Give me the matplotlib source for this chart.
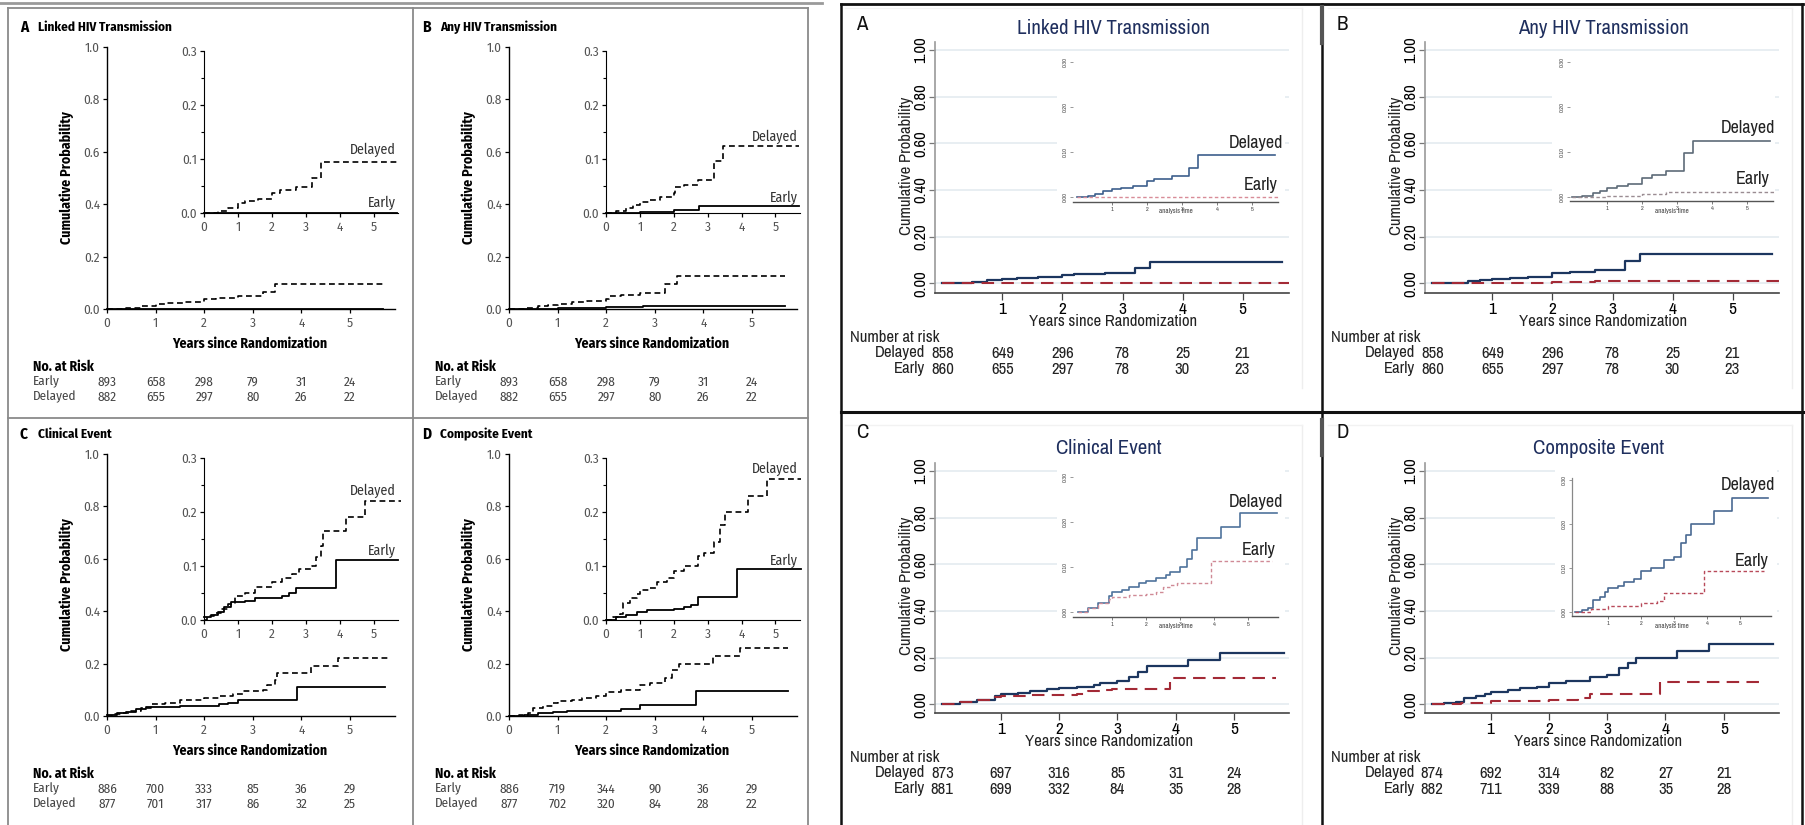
import matplotlib
matplotlib.use("Agg")
import matplotlib.pyplot as plt
from matplotlib.lines import Line2D
from matplotlib.patches import Rectangle

W, H = 1806, 825

# ---------------- data ----------------
years = [0, 1, 2, 3, 4, 5]
letters = ["A", "B", "C", "D"]
titles = ["Linked HIV Transmission", "Any HIV Transmission", "Clinical Event", "Composite Event"]

# left figure (journal version): cumulative probability, step curves
nejm_delayed_t = [
    [0, 0.4, 0.7, 1.0, 1.2, 1.6, 2.0, 2.25, 2.7, 3.2, 3.45, 5.68],
    [0, 0.3, 0.6, 0.8, 1.0, 1.3, 1.6, 2.0, 2.05, 2.3, 2.7, 3.2, 3.45, 5.68],
    [0, 0.1, 0.3, 0.5, 0.7, 0.9, 1.2, 1.5, 2.0, 2.3, 2.6, 2.8, 3.2, 3.3, 3.45, 3.5, 4.2, 4.75, 5.8],
    [0, 0.2, 0.4, 0.5, 0.7, 0.9, 1.0, 1.3, 1.5, 1.8, 2.0, 2.3, 2.7, 2.9, 3.2, 3.35, 3.5, 4.2, 4.75, 5.75],
]
nejm_delayed_p = [
    [0, 0.003, 0.01, 0.018, 0.023, 0.026, 0.037, 0.042, 0.048, 0.065, 0.094, 0.094],
    [0, 0.003, 0.01, 0.015, 0.02, 0.025, 0.03, 0.037, 0.048, 0.052, 0.062, 0.097, 0.125, 0.125],
    [0, 0.007, 0.013, 0.02, 0.03, 0.045, 0.05, 0.062, 0.07, 0.077, 0.085, 0.095, 0.1, 0.117, 0.137, 0.164, 0.19, 0.221, 0.221],
    [0, 0.005, 0.012, 0.031, 0.04, 0.048, 0.056, 0.06, 0.07, 0.078, 0.091, 0.1, 0.119, 0.125, 0.145, 0.176, 0.2, 0.229, 0.261, 0.261],
]
nejm_early_t = [
    [0, 5.68],
    [0, 1.0, 2.0, 2.75, 5.68],
    [0, 0.2, 0.4, 0.6, 0.8, 1.2, 1.5, 2.3, 2.5, 2.7, 3.9, 5.72],
    [0, 0.3, 0.6, 0.9, 1.2, 2.0, 2.3, 2.5, 2.7, 3.85, 5.75],
]
nejm_early_p = [
    [0, 0],
    [0, 0.002, 0.006, 0.013, 0.013],
    [0.005, 0.01, 0.015, 0.025, 0.033, 0.036, 0.04, 0.045, 0.05, 0.06, 0.111, 0.111],
    [0, 0.005, 0.01, 0.015, 0.018, 0.02, 0.025, 0.028, 0.043, 0.094, 0.094],
]
nejm_risk_early = [
    [893, 658, 298, 79, 31, 24],
    [893, 658, 298, 79, 31, 24],
    [886, 700, 333, 85, 36, 29],
    [886, 719, 344, 90, 36, 29],
]
nejm_risk_delayed = [
    [882, 655, 297, 80, 26, 22],
    [882, 655, 297, 80, 26, 22],
    [877, 701, 317, 86, 32, 25],
    [877, 702, 320, 84, 28, 22],
]

# right figure (Stata version)
stata_delayed_t = [
    [0, 0.3, 0.5, 0.75, 1.0, 1.25, 1.6, 2.0, 2.2, 2.7, 3.2, 3.45, 5.66],
    [0, 0.3, 0.6, 0.8, 1.0, 1.3, 1.6, 2.0, 2.3, 2.7, 3.2, 3.45, 5.66],
    [0, 0.3, 0.6, 0.9, 1.0, 1.3, 1.5, 1.8, 2.0, 2.3, 2.6, 2.7, 3.0, 3.2, 3.35, 3.5, 4.2, 4.75, 5.85],
    [0, 0.2, 0.4, 0.55, 0.75, 0.9, 1.0, 1.3, 1.5, 1.8, 2.0, 2.3, 2.7, 3.0, 3.2, 3.35, 3.5, 4.2, 4.75, 5.85],
]
stata_delayed_p = [
    [0, 0.002, 0.006, 0.013, 0.018, 0.021, 0.025, 0.035, 0.04, 0.046, 0.064, 0.093, 0.093],
    [0, 0.003, 0.008, 0.013, 0.019, 0.024, 0.028, 0.043, 0.05, 0.058, 0.097, 0.124, 0.124],
    [0, 0.01, 0.02, 0.035, 0.045, 0.05, 0.055, 0.065, 0.07, 0.075, 0.083, 0.09, 0.1, 0.118, 0.137, 0.164, 0.19, 0.219, 0.219],
    [0, 0.005, 0.01, 0.028, 0.035, 0.045, 0.054, 0.06, 0.068, 0.075, 0.093, 0.1, 0.119, 0.125, 0.157, 0.175, 0.2, 0.23, 0.26, 0.26],
]
stata_early_t = [
    [0, 5.78],
    [0, 1.0, 2.0, 2.7, 5.78],
    [0, 0.3, 0.6, 0.9, 1.0, 1.5, 2.0, 2.3, 2.5, 2.7, 2.9, 3.9, 5.72],
    [0, 0.5, 1.0, 2.0, 2.5, 2.7, 3.9, 5.72],
]
stata_early_p = [
    [0, 0],
    [0, 0.003, 0.006, 0.012, 0.012],
    [0, 0.01, 0.02, 0.03, 0.034, 0.038, 0.04, 0.045, 0.055, 0.06, 0.064, 0.113, 0.113],
    [0, 0.006, 0.014, 0.02, 0.025, 0.043, 0.094, 0.094],
]
stata_risk_delayed = [
    [858, 649, 296, 78, 25, 21],
    [858, 649, 296, 78, 25, 21],
    [873, 697, 316, 85, 31, 24],
    [874, 692, 314, 82, 27, 21],
]
stata_risk_early = [
    [860, 655, 297, 78, 30, 23],
    [860, 655, 297, 78, 30, 23],
    [881, 699, 332, 84, 35, 28],
    [882, 711, 339, 88, 35, 28],
]

NEJM_FONT = ["Fira Sans Condensed", "DejaVu Sans"]
STATA_FONT = ["Archivo Narrow", "DejaVu Sans"]

fig = plt.figure(figsize=(W / 100, H / 100), dpi=100)


def box(x0, y0, x1, y1):
    # pixel box (y measured from the top) -> figure fraction rect
    return [x0 / W, 1 - y1 / H, (x1 - x0) / W, (y1 - y0) / H]


def ftext(x, y, s, **kw):
    fig.text(x / W, 1 - y / H, s, **kw)


def fline(xs, ys, **kw):
    fig.add_artist(Line2D([x / W for x in xs], [1 - y / H for y in ys], **kw))


def mapped_axes(left, right, top, bottom, x0, sx, y0, sy, zorder=0):
    ax = fig.add_axes(box(left, top, right, bottom), zorder=zorder)
    ax.set_xlim((left - x0) / sx, (right - x0) / sx)
    ax.set_ylim((y0 - bottom) / sy, (y0 - top) / sy)
    return ax


# ---------------- left: journal figure ----------------
grey = "#8a8a8a"
fline([0, 822], [3, 3], color="#9a9a9a", lw=2)
for xx in (8, 413, 808):
    fline([xx, xx], [8, 825], color=grey, lw=1.3)
for yy in (8, 418):
    fline([8, 808], [yy, yy], color=grey, lw=1.3)

for i in range(4):
    dx = 402 * (i % 2)
    dy = 407 * (i // 2)
    # main plot
    sx = 48.6
    ax = fig.add_axes(box(107 + dx, 47 + dy, 107 + dx + 5.93 * sx, 309 + dy))
    ax.set_ylim(0, 1)
    ax.set_xlim(0, 5.93)
    ax.step(nejm_delayed_t[i], nejm_delayed_p[i], where="post", color="black",
            lw=1.2, dashes=(3.5, 2.2), clip_on=False)
    ax.step(nejm_early_t[i], nejm_early_p[i], where="post", color="black",
            lw=1.3, clip_on=False)
    ax.set_yticks([0, 0.2, 0.4, 0.6, 0.8, 1.0])
    ax.set_yticklabels(["0.0", "0.2", "0.4", "0.6", "0.8", "1.0"])
    ax.set_xticks(years)
    for s in ("top", "right"):
        ax.spines[s].set_visible(False)
    for s in ("left", "bottom"):
        ax.spines[s].set_linewidth(1.0)
    ax.tick_params(length=3, width=0.9, pad=2, labelsize=9.5, labelcolor="#555555")
    ax.tick_params(axis="x", pad=3)
    for lab in ax.get_xticklabels() + ax.get_yticklabels():
        lab.set_family(NEJM_FONT)
    ax.patch.set_alpha(0)

    # inset
    sxi = 33.9
    axi = fig.add_axes(box(204 + dx, 51 + dy, 204 + dx + 5.72 * sxi, 213 + dy), zorder=2)
    axi.set_xlim(0, 5.72)
    axi.set_ylim(0, 0.3)
    axi.step(nejm_delayed_t[i], nejm_delayed_p[i], where="post", color="black",
             lw=1.2, dashes=(3.5, 2.2), clip_on=False)
    axi.step(nejm_early_t[i], nejm_early_p[i], where="post", color="black",
             lw=1.3, clip_on=False)
    axi.set_yticks([0, 0.1, 0.2, 0.3])
    axi.set_yticklabels(["0.0", "0.1", "0.2", "0.3"])
    axi.set_yticks([0.05, 0.15, 0.25], minor=True)
    axi.set_xticks(years)
    for s in ("top", "right"):
        axi.spines[s].set_visible(False)
    axi.tick_params(length=3, width=0.9, pad=2, labelsize=9.5, labelcolor="#555555")
    axi.tick_params(axis="y", which="minor", length=2, width=0.8)
    axi.tick_params(axis="x", pad=3)
    for lab in axi.get_xticklabels() + axi.get_yticklabels():
        lab.set_family(NEJM_FONT)
    axi.patch.set_alpha(0)
    d_lab = [0.117, 0.142, 0.239, 0.28][i]
    e_lab = [0.018, 0.028, 0.128, 0.109][i]
    axi.text(5.65, d_lab, "Delayed", ha="right", va="center", fontsize=10,
             color="#333333", family=NEJM_FONT)
    axi.text(5.65, e_lab, "Early", ha="right", va="center", fontsize=10,
             color="#333333", family=NEJM_FONT)

    # texts
    ftext(20 + dx, 27 + dy, letters[i], fontsize=11, fontweight="bold", va="center",
          family=NEJM_FONT)
    ftext(38 + dx, 27 + dy, titles[i], fontsize=9.5, fontweight="bold", va="center",
          family=NEJM_FONT)
    ftext(67 + dx, 178 + dy, "Cumulative Probability", rotation=90, fontsize=10,
          fontweight="bold", ha="center", va="center", family=NEJM_FONT)
    ftext(250 + dx, 344 + dy, "Years since Randomization", fontsize=10,
          fontweight="bold", ha="center", va="center", family=NEJM_FONT)
    ftext(33 + dx, 367 + dy, "No. at Risk", fontsize=10, fontweight="bold",
          va="center", family=NEJM_FONT)
    ftext(33 + dx, 382 + dy, "Early", fontsize=9.5, va="center", color="#444444",
          family=NEJM_FONT)
    ftext(33 + dx, 397 + dy, "Delayed", fontsize=9.5, va="center", color="#444444",
          family=NEJM_FONT)
    for k, yr in enumerate(years):
        xp = 107 + dx + yr * sx
        ftext(xp, 382 + dy, str(nejm_risk_early[i][k]), fontsize=9.5, ha="center",
              va="center", color="#444444", family=NEJM_FONT)
        ftext(xp, 397 + dy, str(nejm_risk_delayed[i][k]), fontsize=9.5, ha="center",
              va="center", color="#444444", family=NEJM_FONT)

# ---------------- right: Stata figure ----------------
navy = "#1c365f"
darkred = "#a32a36"
title_col = "#1f2f5e"
grid_col = "#e4ebf0"

# faint graph-region borders
for (xa, xb, ya, yb) in [(845, 1302, 8, 388), (1328, 1792, 8, 388),
                         (845, 1302, 425, 825), (1328, 1792, 425, 825)]:
    fline([xb, xb], [ya, yb], color="#eeeeee", lw=1)
    fline([xa, xb], [ya, ya], color="#f2f2f2", lw=1)

fline([841, 1803], [4, 4], color="#111111", lw=2)
fline([841, 1803], [412, 412], color="#111111", lw=2.2)
for xx in (841, 1322, 1802):
    fline([xx, xx], [4, 825], color="#111111", lw=1.8)
fline([1322, 1322], [7, 43], color="#555555", lw=3)
fline([1322, 1322], [420, 455], color="#555555", lw=3)

stata_main = [
    # spine x, data-zero x, px/yr, right end, y zero, px/unit, spine bottom, spine top
    (935, 942.5, 60.0, 1289, 283.3, 233.3, 293, 42),
    (1425, 1432.5, 60.0, 1779, 283.3, 233.3, 293, 42),
    (935, 942.25, 58.4, 1289, 704.3, 233.3, 713, 463),
    (1425, 1432.3, 58.3, 1779, 704.3, 233.3, 713, 463),
]
stata_inset = [
    (1073, 1077, 35.0, 1278, 197, 450, 202, 58),
    (1570, 1572, 35.0, 1773, 197, 450, 201, 58),
    (1073, 1078, 34.0, 1278, 612, 450, 617, 473),
    (1572, 1575, 33.0, 1771, 612, 440, 616, 478),
]
cover = [(1057, 55, 1285, 222), (1552, 55, 1775, 222),
         (1057, 465, 1285, 640), (1555, 465, 1777, 640)]
inset_label_pos = [((1256, 143), (1261, 185)), ((1748, 128), (1753, 179)),
                   ((1256, 502), (1259, 550)), ((1748, 485), (1752, 561))]
inset_delayed_col = ["#3d5f8c", "#5d6b78", "#4f739c", "#4a6a92"]
inset_early_col = ["#d88c98", "#9a8c92", "#d08a96", "#b84a5a"]

for i in range(4):
    left, x0, sx, right, y0, sy, ybot, ytop = stata_main[i]
    ax = mapped_axes(left, right, ytop, ybot, x0, sx, y0, sy)
    ax.set_yticks([0, 0.2, 0.4, 0.6, 0.8, 1.0])
    ax.set_yticklabels(["0.00", "0.20", "0.40", "0.60", "0.80", "1.00"])
    ax.set_xticks(years[1:])
    ax.yaxis.grid(True, color=grid_col, lw=1.2)
    ax.set_axisbelow(True)
    for s in ("top", "right"):
        ax.spines[s].set_visible(False)
    ax.spines["left"].set_color("#9a9a9a")
    ax.spines["bottom"].set_color("#444444")
    ax.spines["left"].set_linewidth(1.2)
    ax.spines["bottom"].set_linewidth(1.2)
    ax.tick_params(axis="y", length=4, width=0.9, color="#777777", pad=0.8,
                   labelsize=12, labelrotation=90)
    ax.tick_params(axis="x", length=5, width=0.9, color="#444444", pad=1.5,
                   labelsize=12.5)
    for lab in ax.get_yticklabels():
        lab.set_va("center")
    for lab in ax.get_xticklabels() + ax.get_yticklabels():
        lab.set_family(STATA_FONT)
    ax.step(stata_delayed_t[i], stata_delayed_p[i], where="post", color=navy, lw=1.6)
    ax.step(stata_early_t[i], stata_early_p[i], where="post", color=darkred, lw=1.5,
            dashes=(6, 3.5))

    # white cover behind the inset
    cx0, cy0, cx1, cy1 = cover[i]
    fig.add_artist(Rectangle(((cx0) / W, 1 - cy1 / H), (cx1 - cx0) / W, (cy1 - cy0) / H,
                             transform=fig.transFigure, facecolor="white",
                             edgecolor="none", zorder=1))

    il, ix0, isx, ir, iy0, isy, iyb, iyt = stata_inset[i]
    axi = mapped_axes(il, ir, iyt, iyb, ix0, isx, iy0, isy, zorder=2)
    axi.patch.set_alpha(0)
    axi.set_yticks([0, 0.1, 0.2, 0.3])
    axi.set_yticklabels(["0.00", "0.10", "0.20", "0.30"])
    axi.set_xticks(years[1:])
    axi.set_yticks([0, 0.1, 0.2], minor=True)
    axi.yaxis.grid(True, which="minor", color=grid_col, lw=1)
    axi.set_axisbelow(True)
    for s in ("top", "right"):
        axi.spines[s].set_visible(False)
    axi.spines["left"].set_visible(i == 3)
    axi.spines["left"].set_color("#888888")
    axi.spines["left"].set_linewidth(0.9)
    axi.spines["bottom"].set_color("#555555")
    axi.spines["bottom"].set_linewidth(1.0)
    axi.tick_params(axis="y", which="major", length=2, width=0.6, color="#888888",
                    pad=1.5, labelsize=4.5, labelrotation=90, labelcolor="#444444")
    axi.tick_params(axis="y", which="minor", length=0)
    axi.tick_params(axis="x", length=2, width=0.6, color="#666666", pad=1.5,
                    labelsize=4.5, labelcolor="#444444")
    for lab in axi.get_yticklabels():
        lab.set_va("center")
    for lab in axi.get_xticklabels() + axi.get_yticklabels():
        lab.set_family(STATA_FONT)
    axi.text(0.5 * ((il - ix0) / isx + (ir - ix0) / isx), -0.032,
             "analysis time", fontsize=5, ha="center", va="center",
             color="#444444", family=STATA_FONT)
    axi.step(stata_delayed_t[i], stata_delayed_p[i], where="post",
             color=inset_delayed_col[i], lw=1.2, clip_on=False)
    axi.step(stata_early_t[i], stata_early_p[i], where="post",
             color=inset_early_col[i], lw=1.0, dashes=(2.5, 1.8), clip_on=False)
    (dlx, dly), (elx, ely) = inset_label_pos[i]
    ftext(dlx, dly, "Delayed", fontsize=13, ha="center", va="center",
          color="#222222", family=STATA_FONT, zorder=3)
    ftext(elx, ely, "Early", fontsize=13, ha="center", va="center",
          color="#222222", family=STATA_FONT, zorder=3)

    # texts around the plot
    top_y = 25 if i < 2 else 432
    ttl_y = 28 if i < 2 else 449
    lx = 856 if i % 2 == 0 else 1337
    cx = x0 + 2.85 * sx
    ftext(lx, top_y, letters[i], fontsize=15, va="center", color="#111111",
          family=STATA_FONT)
    ftext(cx, ttl_y, titles[i], fontsize=15, ha="center", va="center",
          color=title_col, family=STATA_FONT)
    ftext(left - 28, (ytop + ybot) / 2 - 2, "Cumulative Probability",
          rotation=90, fontsize=12, ha="center", va="center", color="#222222",
          family=STATA_FONT)
    ftext(cx, ybot + 28, "Years since Randomization", fontsize=12, ha="center",
          va="center", color="#222222", family=STATA_FONT)
    ftext(lx - 6, ybot + 45, "Number at risk", fontsize=12, va="center",
          color="#222222", family=STATA_FONT)
    ftext(left - 10, ybot + 60, "Delayed", fontsize=12, ha="right", va="center",
          color="#222222", family=STATA_FONT)
    ftext(left - 10, ybot + 76, "Early", fontsize=12, ha="right", va="center",
          color="#222222", family=STATA_FONT)
    for k, yr in enumerate(years):
        xp = x0 + yr * sx
        ftext(xp, ybot + 60, str(stata_risk_delayed[i][k]), fontsize=12, ha="center",
              va="center", color="#222222", family=STATA_FONT)
        ftext(xp, ybot + 76, str(stata_risk_early[i][k]), fontsize=12, ha="center",
              va="center", color="#222222", family=STATA_FONT)

fig.savefig("out.png", dpi=100)
